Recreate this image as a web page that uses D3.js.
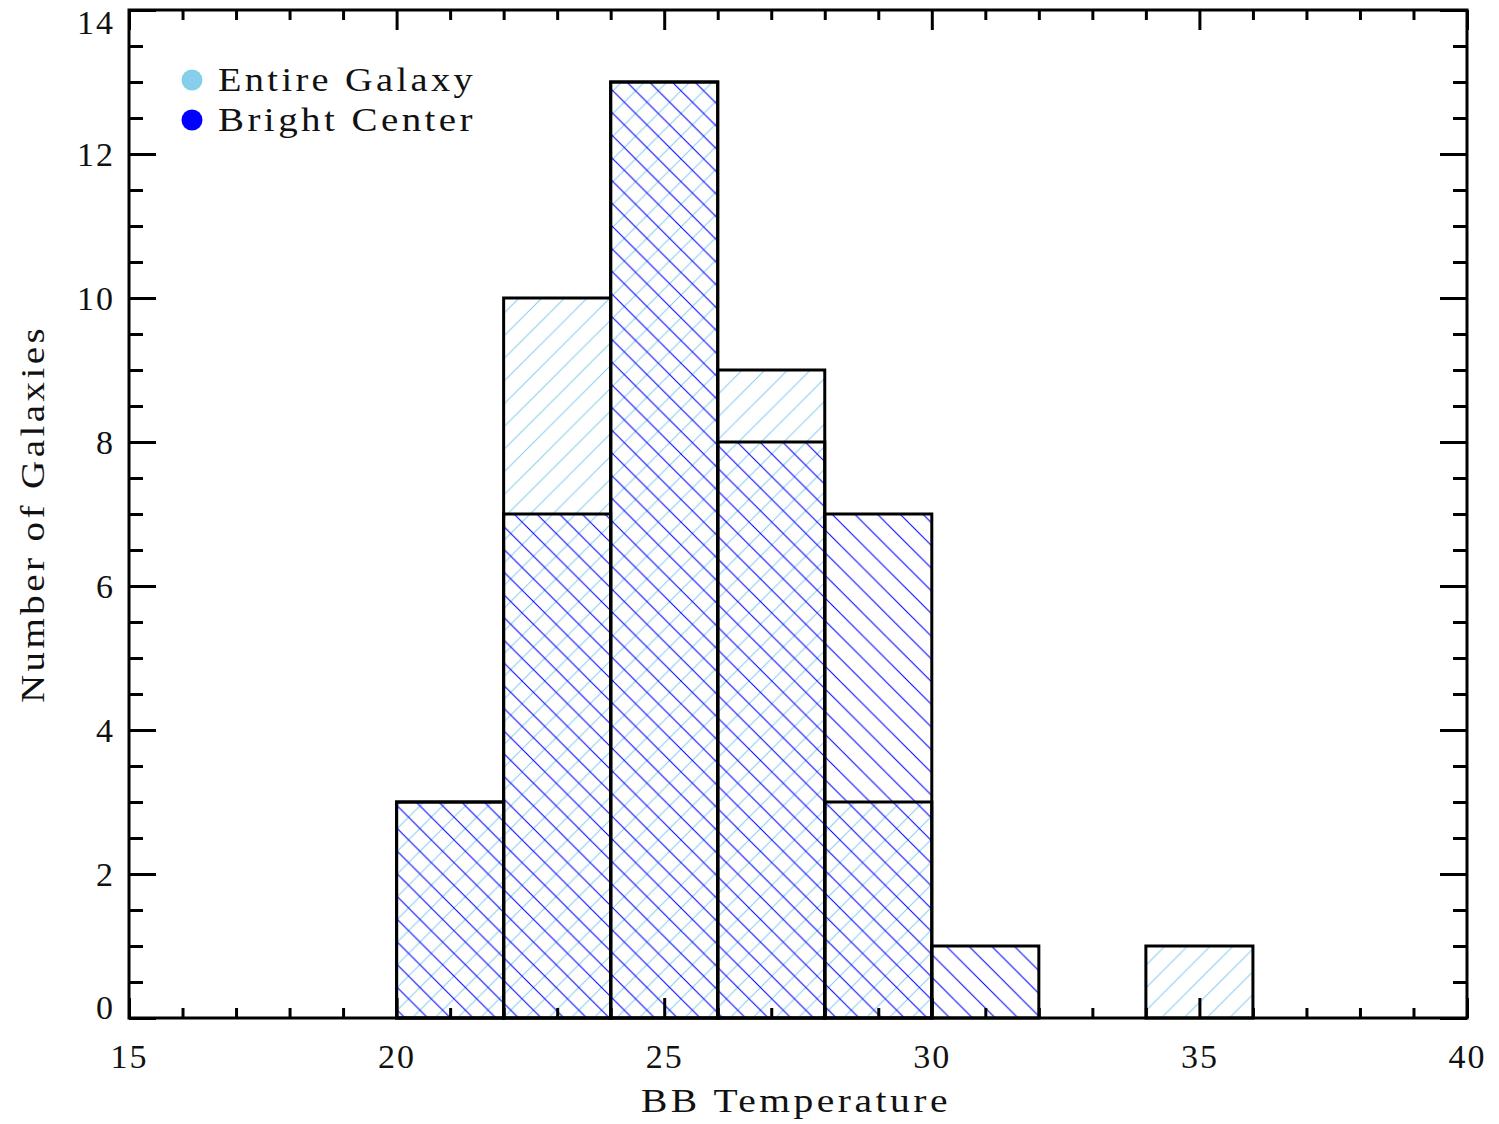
<!DOCTYPE html>
<html>
<head>
<meta charset="utf-8">
<script src="https://cdn.jsdelivr.net/npm/d3@7"></script>
<style>
  html, body { margin: 0; padding: 0; background: #fff; }
  svg { display: block; }
  text { font-family: "Liberation Serif", "DejaVu Serif", serif; fill: #111; }
</style>
</head>
<body>
<svg id="chart" width="1499" height="1124"></svg>
<script>
// Histogram of blackbody temperatures, bins of width 2
const binStarts = [20, 22, 24, 26, 28, 30, 32, 34];
const binWidth = 2;
const entireGalaxy = [3, 10, 13, 9, 3, 0, 0, 1];
const brightCenter = [3, 7, 13, 8, 7, 1, 0, 0];

const seriesNames = ["Entire Galaxy", "Bright Center"];
const seriesColors = ["#87CEEB", "#0000FF"];

const xMajorTicks = [15, 20, 25, 30, 35, 40];
const yMajorTicks = [0, 2, 4, 6, 8, 10, 12, 14];

const xLabel = "BB Temperature";
const yLabel = "Number of Galaxies";

const m = { left: 129, right: 1467, top: 10, bottom: 1018 };

const svg = d3.select("#chart");

const x = d3.scaleLinear().domain([15, 40]).range([m.left, m.right]);
const y = d3.scaleLinear().domain([0, 14]).range([m.bottom, m.top]);

// Hatch patterns: "/" for the whole galaxy, "\" for the bright center
const defs = svg.append("defs");
const P = 22.7;
function hatch(id, color, forward) {
  const p = defs.append("pattern")
    .attr("id", id)
    .attr("patternUnits", "userSpaceOnUse")
    .attr("width", P).attr("height", P);
  const segs = forward
    ? [[0, P, P, 0], [-P, P, P, -P], [0, 2 * P, 2 * P, 0]]
    : [[0, 0, P, P], [-P, 0, P, 2 * P], [0, -P, 2 * P, P]];
  segs.forEach(s => p.append("line")
    .attr("x1", s[0]).attr("y1", s[1]).attr("x2", s[2]).attr("y2", s[3])
    .attr("stroke", color).attr("stroke-width", 1));
}
hatch("hatch-entire", seriesColors[0], true);
hatch("hatch-bright", seriesColors[1], false);

function drawBars(values, patternId) {
  const data = binStarts.map((s, i) => ({ x0: s, x1: s + binWidth, v: values[i] }))
    .filter(d => d.v > 0);
  svg.append("g").selectAll("rect").data(data).join("rect")
    .attr("x", d => x(d.x0)).attr("width", d => x(d.x1) - x(d.x0))
    .attr("y", d => y(d.v)).attr("height", d => y(0) - y(d.v))
    .attr("fill", `url(#${patternId})`);
  return data;
}
function drawOutlines(data) {
  svg.append("g").selectAll("rect").data(data).join("rect")
    .attr("x", d => x(d.x0)).attr("width", d => x(d.x1) - x(d.x0))
    .attr("y", d => y(d.v)).attr("height", d => y(0) - y(d.v))
    .attr("fill", "none").attr("stroke", "#000").attr("stroke-width", 3);
}
const dEntire = drawBars(entireGalaxy, "hatch-entire");
const dBright = drawBars(brightCenter, "hatch-bright");
drawOutlines(dEntire);
drawOutlines(dBright);

// Axes with inward-pointing ticks on all four sides
const axisStyle = g => {
  g.select(".domain").remove();
  g.selectAll(".tick line").attr("stroke", "#000").attr("stroke-width", 3);
};
const xMinor = d3.range(15, 40.001, 1).filter(v => v % 5 !== 0);
const yMinor = d3.range(0, 14.001, 0.5).filter(v => v % 2 !== 0);

// bottom
svg.append("g").attr("transform", `translate(0,${m.bottom})`)
  .call(d3.axisBottom(x).tickValues(xMinor).tickSize(-10).tickFormat(""))
  .call(axisStyle);
const xb = svg.append("g").attr("transform", `translate(0,${m.bottom})`)
  .call(d3.axisBottom(x).tickValues(xMajorTicks).tickSize(-20).tickFormat(d3.format("d")))
  .call(axisStyle);
xb.selectAll(".tick text")
  .attr("y", 50).attr("dy", 0)
  .attr("font-size", 34).attr("fill", "#111")
  .style("font-family", "Liberation Serif, serif")
  .style("letter-spacing", "2px");

// top
svg.append("g").attr("transform", `translate(0,${m.top})`)
  .call(d3.axisTop(x).tickValues(xMinor).tickSize(-10).tickFormat(""))
  .call(axisStyle);
svg.append("g").attr("transform", `translate(0,${m.top})`)
  .call(d3.axisTop(x).tickValues(xMajorTicks).tickSize(-20).tickFormat(""))
  .call(axisStyle);

// left
svg.append("g").attr("transform", `translate(${m.left},0)`)
  .call(d3.axisLeft(y).tickValues(yMinor).tickSize(-14).tickFormat(""))
  .call(axisStyle);
const yl = svg.append("g").attr("transform", `translate(${m.left},0)`)
  .call(d3.axisLeft(y).tickValues(yMajorTicks).tickSize(-27).tickFormat(d3.format("d")))
  .call(axisStyle);
yl.selectAll(".tick text")
  .attr("x", -14)
  .attr("dy", d => d === 0 ? "0em" : d === 14 ? "0.7em" : "0.35em")
  .attr("font-size", 34).attr("fill", "#111")
  .style("font-family", "Liberation Serif, serif")
  .style("letter-spacing", "2px");

// right
svg.append("g").attr("transform", `translate(${m.right},0)`)
  .call(d3.axisRight(y).tickValues(yMinor).tickSize(-14).tickFormat(""))
  .call(axisStyle);
svg.append("g").attr("transform", `translate(${m.right},0)`)
  .call(d3.axisRight(y).tickValues(yMajorTicks).tickSize(-27).tickFormat(""))
  .call(axisStyle);

// frame
svg.append("rect")
  .attr("x", m.left).attr("y", m.top)
  .attr("width", m.right - m.left).attr("height", m.bottom - m.top)
  .attr("fill", "none").attr("stroke", "#000").attr("stroke-width", 3);

// axis titles (glyphs stretched to a wide, even set width)
svg.append("text")
  .attr("x", 641).attr("y", 1112)
  .attr("font-size", 34)
  .style("letter-spacing", "3px")
  .attr("textLength", 310).attr("lengthAdjust", "spacingAndGlyphs")
  .text(xLabel);
svg.append("text")
  .attr("transform", `translate(44,703) rotate(-90)`)
  .attr("font-size", 34)
  .style("letter-spacing", "3px")
  .attr("textLength", 378).attr("lengthAdjust", "spacingAndGlyphs")
  .text(yLabel);

// legend
const legend = svg.append("g");
seriesNames.forEach((name, i) => {
  const cy = 80 + i * 40;
  legend.append("circle").attr("cx", 192).attr("cy", cy).attr("r", 10.5)
    .attr("fill", seriesColors[i]);
  legend.append("text").attr("x", 218).attr("y", cy + 11)
    .attr("font-size", 34).style("letter-spacing", "3px")
    .attr("textLength", 258).attr("lengthAdjust", "spacingAndGlyphs")
    .text(name);
});
</script>
</body>
</html>
